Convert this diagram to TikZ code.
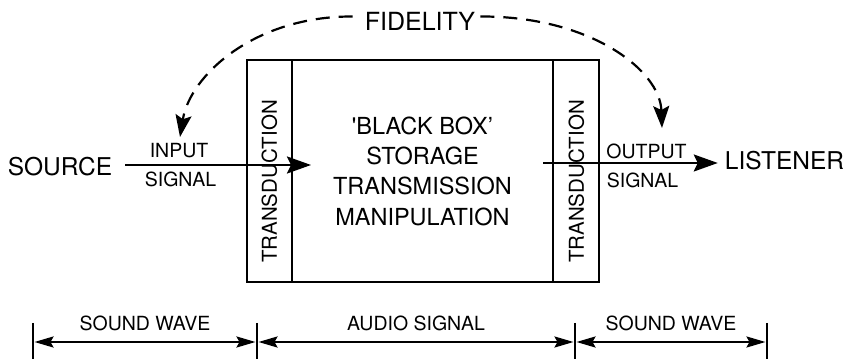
\documentclass[tikz,border=0pt]{standalone}
\usepackage{fontspec}
\setmainfont{TeX Gyre Heros}
\usetikzlibrary{positioning,arrows.meta}

\begin{document}
\begin{tikzpicture}[
  x=1pt, y=1pt,
  bigtext/.style={font=\fontsize{24.5}{28}\selectfont, inner sep=0pt},
  sigtext/.style={font=\fontsize{19.5}{22}\selectfont, inner sep=0pt},
  dimtext/.style={font=\fontsize{19.5}{22}\selectfont, inner sep=0pt},
  tdbox/.style={draw, line width=2.2pt, minimum width=45pt, minimum height=222pt,
                inner sep=0pt, outer sep=0pt},
  blackbox/.style={draw, line width=2.2pt, minimum width=261pt, minimum height=222pt,
                   align=center, font=\fontsize{23.5}{30.3}\selectfont,
                   inner sep=0pt, outer sep=0pt},
  tdtext/.style={rotate=90, font=\fontsize{20.5}{24}\selectfont, inner sep=0pt},
  arrow/.style={-{Stealth[length=24pt, width=17pt, inset=4pt]}, line width=2.2pt},
  fidarrow/.style={-{Stealth[length=22pt, width=16pt, inset=4pt]}, line width=2.2pt,
                   dash pattern=on 14pt off 9pt},
  dimarrow/.style={{Stealth[length=19pt, width=11pt, inset=3pt]}-{Stealth[length=19pt, width=11pt, inset=3pt]},
                   line width=2.2pt, shorten <=1.5pt, shorten >=1.5pt},
  dimtick/.style={line width=2.2pt}
]
  \useasboundingbox (0,0) rectangle (847,359);

  % the box with its two transducers
  \node[tdbox] (tdl) at (269.5,188) {};
  \node[blackbox, right=0pt of tdl] (bb) {\textquotesingle BLACK BOX\textquoteright\\STORAGE\\TRANSMISSION\\MANIPULATION};
  \node[tdbox, right=0pt of bb, minimum width=46pt] (tdr) {};
  \node[tdtext] (tdlt) at (269.5,177.5) {TRANSDUCTION};
  \node[tdtext] (tdrt) at (576.5,177.5) {TRANSDUCTION};

  % source and listener
  \node[bigtext] (src) at (60,192.5) {SOURCE};
  \node[bigtext] (lis) at (784.5,198) {LISTENER};
  \coordinate (intip) at (311,194);
  \coordinate (outstart) at (543,196);
  \draw[arrow] ([xshift=13pt]src.east |- intip) -- (intip);
  \draw[arrow] (outstart) -- ([xshift=-7pt]lis.west |- outstart);

  \node[sigtext] (inp) at (179,208) {INPUT};
  \node[sigtext] (insig) at (180.5,179.5) {SIGNAL};
  \node[sigtext] (outp) at (646.5,208) {OUTPUT};
  \node[sigtext] (outsig) at (642.5,179) {SIGNAL};

  % fidelity
  \node[font=\fontsize{25}{28}\selectfont, inner sep=0pt] (fid) at (420,337.5) {FIDELITY};
  \coordinate (fidin) at (180,222);
  \coordinate (fidout) at (662,231);
  \draw[fidarrow] ([xshift=-12pt,yshift=5pt]fid.west) .. controls (255,343) and (190,284) .. (fidin);
  \draw[fidarrow] ([xshift=5pt,yshift=5pt]fid.east) .. controls (590,343) and (660,289) .. (fidout);

  % dimension lines
  \coordinate (d0) at (33,36);
  \coordinate (d1) at (257,36);
  \coordinate (d2) at (575,36);
  \coordinate (d3) at (767,36);
  \draw[dimtick] (d0) -- +(0,-40);
  \draw[dimtick] (d1) -- +(0,-40);
  \draw[dimtick] (d2) -- +(0,-40);
  \draw[dimtick] (d3) -- +(0,-40);
  \draw[dimarrow] ([yshift=-19pt]d0) -- node[dimtext, above=10pt] (sw1) {SOUND WAVE} ([yshift=-19pt]d1);
  \draw[dimarrow] ([yshift=-19pt]d1) -- node[dimtext, above=10pt] (as) {AUDIO SIGNAL} ([yshift=-19pt]d2);
  \draw[dimarrow] ([yshift=-19pt]d2) -- node[dimtext, above=10pt] (sw2) {SOUND WAVE} ([yshift=-19pt]d3);
\end{tikzpicture}
\end{document}
